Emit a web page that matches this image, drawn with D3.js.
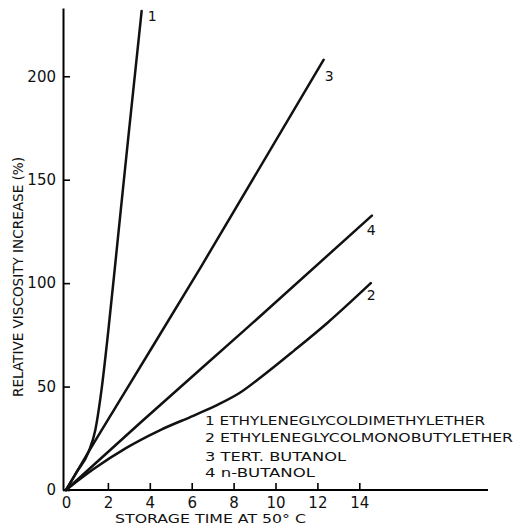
<!DOCTYPE html>
<html>
<head>
<meta charset="utf-8">
<script src="https://cdn.jsdelivr.net/npm/d3@7"></script>
<style>
  body { margin: 0; background: #fff; }
  svg text { font-family: "DejaVu Sans", sans-serif; fill: #111; }
</style>
</head>
<body>
<div id="chart"></div>
<script>
// storage time vs relative viscosity increase (%)
var t1 = [0, 0.5, 1.08, 1.4, 1.69, 2.02, 2.5, 3.0, 3.61];
var v1 = [0, 8.5, 18.5, 29, 48, 77, 124, 173, 231.5];

var t2 = [0, 1.3, 2.9, 4.5, 6.1, 7.3, 8.3, 9.3, 10.9, 12.5, 14.55];
var v2 = [0, 10, 20.5, 29, 36, 41.5, 47, 54.5, 67.5, 81, 100];

var t3 = [0, 0.5, 1.08, 2.91, 6.45, 12.3];
var v3 = [0, 8.5, 18.5, 49, 108, 208];

var t4 = [0, 3.6, 8.55, 14.6];
var v4 = [0, 33, 77.5, 132.6];

var seriesIds = ["1", "2", "3", "4"];
var legendLabels = [
  "1 ETHYLENEGLYCOLDIMETHYLETHER",
  "2 ETHYLENEGLYCOLMONOBUTYLETHER",
  "3 TERT. BUTANOL",
  "4 n-BUTANOL"
];
var xTicks = [0, 2, 4, 6, 8, 10, 12, 14];
var yTicks = [0, 50, 100, 150, 200];

var W = 524, H = 528;
var svg = d3.select("#chart").append("svg")
  .attr("width", W)
  .attr("height", H);

var x = d3.scaleLinear().domain([0, 20]).range([66, 485]);
var y = d3.scaleLinear().domain([0, 233]).range([490, 8]);

// y axis, ticks pointing inward
var yAxis = svg.append("g")
  .attr("transform", "translate(63,0)")
  .call(d3.axisLeft(y).tickValues(yTicks).tickSizeInner(-7).tickSizeOuter(0).tickPadding(7));
yAxis.select(".domain").attr("stroke-width", 2);
yAxis.selectAll(".tick line").attr("stroke-width", 1.6);
yAxis.selectAll(".tick text").style("font-size", "15px").attr("font-family", null);

// x axis
var xAxis = svg.append("g")
  .attr("transform", "translate(0,490)")
  .call(d3.axisBottom(x).tickValues(xTicks).tickSizeInner(-7).tickSizeOuter(0).tickPadding(7));
xAxis.select(".domain").attr("stroke-width", 2).attr("d", "M63,0H488");
xAxis.selectAll(".tick line").attr("stroke-width", 1.6)
  .attr("opacity", function(d){ return d === 0 ? 0 : 1; });
xAxis.selectAll(".tick text").style("font-size", "15px").attr("font-family", null);

var line = d3.line()
  .x(function(d){ return x(d[0]); })
  .y(function(d){ return y(d[1]); })
  .curve(d3.curveMonotoneX);

var series = [d3.zip(t1, v1), d3.zip(t2, v2), d3.zip(t3, v3), d3.zip(t4, v4)];

svg.append("g").selectAll("path")
  .data(series)
  .enter().append("path")
  .attr("d", line)
  .attr("fill", "none")
  .attr("stroke", "#111")
  .attr("stroke-width", 2.5)
  .attr("stroke-linecap", "round");

// numbers at the curve ends
var endOffsets = [[6, 10], [-4, 17], [1, 21], [-5, 19]];
svg.append("g").selectAll("text")
  .data(series)
  .enter().append("text")
  .attr("x", function(d, i){ return x(d[d.length - 1][0]) + endOffsets[i][0]; })
  .attr("y", function(d, i){ return y(d[d.length - 1][1]) + endOffsets[i][1]; })
  .style("font-size", "14px")
  .text(function(d, i){ return seriesIds[i]; });

// legend
var legendY = [425, 441.5, 461, 476.5];
var legendW = [280, 308, 141, 110];
svg.append("g").selectAll("text")
  .data(legendLabels)
  .enter().append("text")
  .attr("x", 205)
  .attr("y", function(d, i){ return legendY[i]; })
  .attr("textLength", function(d, i){ return legendW[i]; })
  .attr("lengthAdjust", "spacingAndGlyphs")
  .style("font-size", "13px")
  .text(function(d){ return d; });

// axis titles
svg.append("text")
  .attr("x", 115)
  .attr("y", 523)
  .attr("textLength", 191)
  .attr("lengthAdjust", "spacingAndGlyphs")
  .style("font-size", "13px")
  .text("STORAGE TIME AT 50° C");

svg.append("text")
  .attr("transform", "translate(23,277) rotate(-90)")
  .attr("text-anchor", "middle")
  .attr("textLength", 240)
  .attr("lengthAdjust", "spacingAndGlyphs")
  .style("font-size", "13.5px")
  .text("RELATIVE VISCOSITY INCREASE (%)");
</script>
</body>
</html>
